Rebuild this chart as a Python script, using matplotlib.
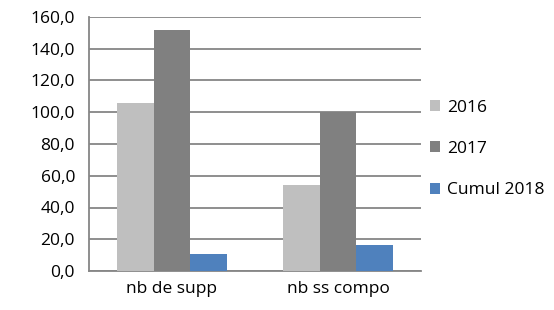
import numpy as np
import matplotlib.pyplot as plt

categories = ['nb de supp', 'nb ss compo']
series_names = ['2016', '2017', 'Cumul 2018']
values_2016 = [106.0, 54.0]
values_2017 = [152.0, 100.0]
values_2018 = [10.8, 16.4]
yticks = [0, 20, 40, 60, 80, 100, 120, 140, 160]

plt.rcParams['font.family'] = ['Open Sans', 'DejaVu Sans']

fig = plt.figure(figsize=(5.54, 3.10), dpi=100)
ax = fig.add_axes([89 / 554, 1 - 271 / 310, 332 / 554, 254 / 310])

x = np.arange(len(categories))
w = 0.22
colors = ['#BFBFBF', '#808080', '#4F81BD']
for i, (vals, name) in enumerate(zip([values_2016, values_2017, values_2018], series_names)):
    ax.bar(x + (i - 1) * w, vals, w, color=colors[i], label=name, zorder=3)

ax.set_xlim(-0.5, 1.5)
ax.set_ylim(0, 160)
ax.set_yticks(yticks)
ax.set_yticklabels([f'{v:.1f}'.replace('.', ',') for v in yticks], fontsize=12.5, color='#000000')
ax.set_xticks(x)
ax.set_xticklabels(categories, fontsize=12.5)
ax.tick_params(axis='both', length=0)
ax.tick_params(axis='y', pad=10)
ax.tick_params(axis='x', pad=7)
ax.yaxis.grid(True, color='#868686', linewidth=1.3, zorder=0)
ax.set_axisbelow(True)
for s in ['top', 'right']:
    ax.spines[s].set_visible(False)
for s in ['left', 'bottom']:
    ax.spines[s].set_color('#868686')
    ax.spines[s].set_linewidth(1.3)

ax.legend(loc='center left', bbox_to_anchor=(0.99, 0.48), frameon=False, fontsize=12.5,
          handlelength=0.6, handleheight=0.6, handletextpad=0.4, labelspacing=1.45,
          borderaxespad=0.3)

fig.savefig('out.png', dpi=100)
